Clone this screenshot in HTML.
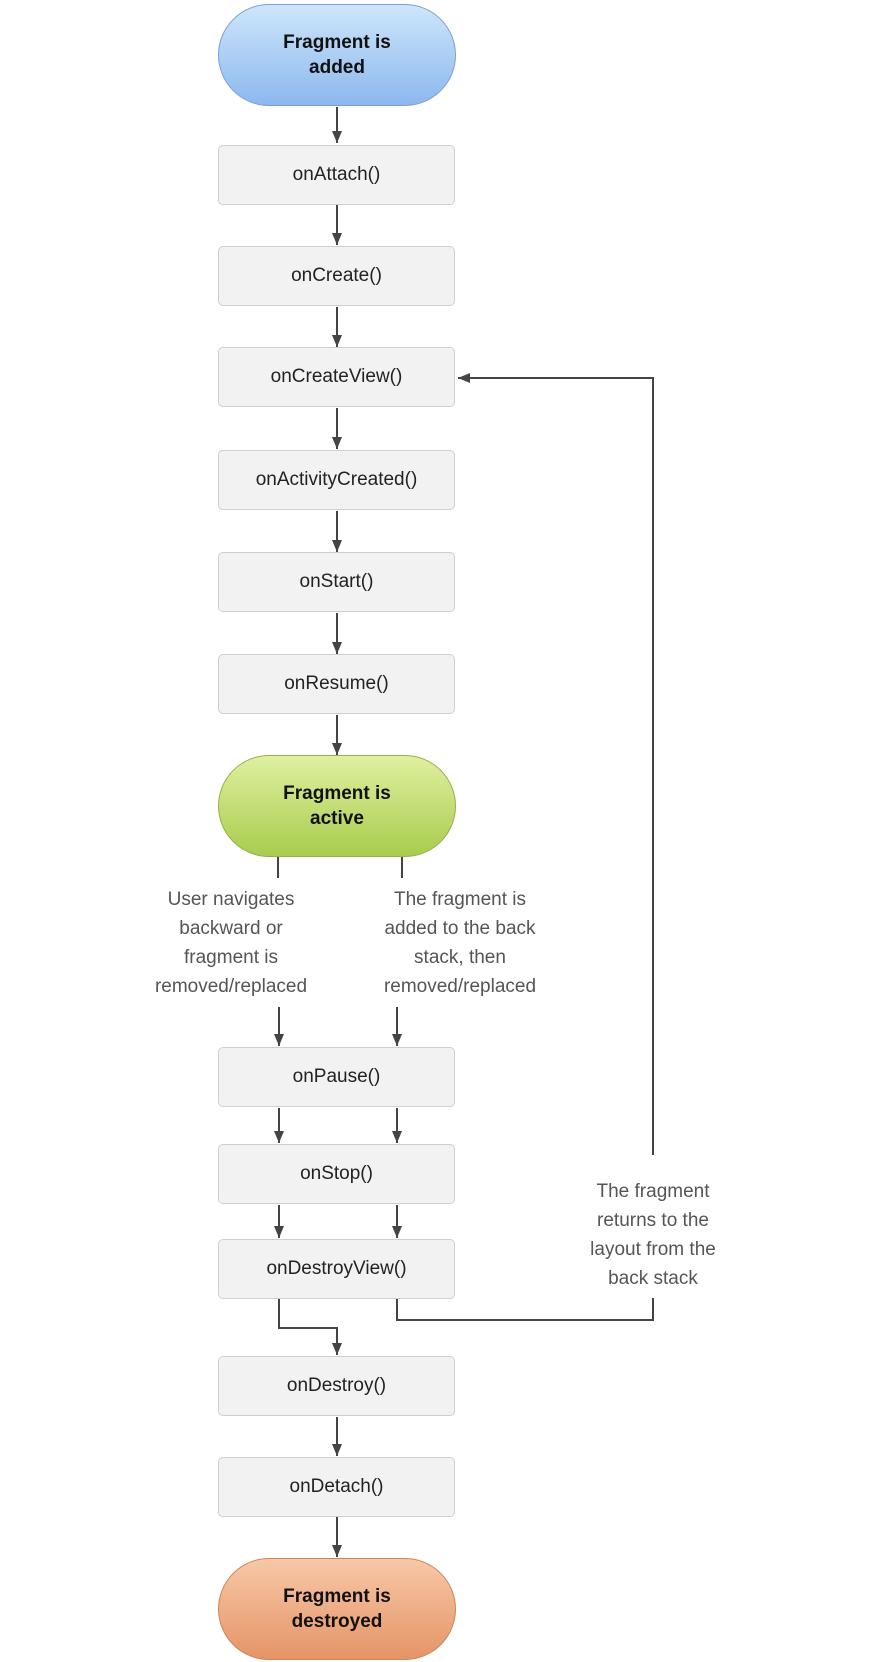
<!DOCTYPE html>
<html><head><meta charset="utf-8"><style>
html,body{margin:0;padding:0;background:#fff;}
body{width:880px;height:1662px;position:relative;overflow:hidden;font-family:"Liberation Sans",Arial,sans-serif;}
.box{position:absolute;left:218px;width:237px;height:60px;background:#f2f2f2;border:1px solid #cfcfcf;border-radius:5px;box-sizing:border-box;display:flex;align-items:center;justify-content:center;font-size:19px;color:#222;}
.pill{position:absolute;left:218px;width:238px;height:102px;border-radius:51px;box-sizing:border-box;display:flex;align-items:center;justify-content:center;text-align:center;font-weight:bold;font-size:19px;line-height:25px;color:#111;}
.lbl{position:absolute;text-align:center;font-size:19px;line-height:29px;color:#555;}
svg{position:absolute;left:0;top:0;}
</style></head><body>
<svg width="880" height="1662">
<defs><marker id="a" markerWidth="12" markerHeight="10" refX="12" refY="5" orient="auto" markerUnits="userSpaceOnUse"><path d="M0,0 L12,5 L0,10 z" fill="#444"/></marker></defs>
<g stroke="#444" stroke-width="2" fill="none">
<path d="M337 107V143" marker-end="url(#a)"/>
<path d="M337 205V245" marker-end="url(#a)"/>
<path d="M337 307V347" marker-end="url(#a)"/>
<path d="M337 408V449" marker-end="url(#a)"/>
<path d="M337 511V552" marker-end="url(#a)"/>
<path d="M337 613V654" marker-end="url(#a)"/>
<path d="M337 715V755" marker-end="url(#a)"/>
<path d="M278 856V878M402 856V878"/>
<path d="M279 1007V1046" marker-end="url(#a)"/>
<path d="M397 1007V1046" marker-end="url(#a)"/>
<path d="M279 1108V1143" marker-end="url(#a)"/>
<path d="M397 1108V1143" marker-end="url(#a)"/>
<path d="M279 1205V1238" marker-end="url(#a)"/>
<path d="M397 1205V1238" marker-end="url(#a)"/>
<path d="M279 1298V1328H337V1355" marker-end="url(#a)"/>
<path d="M397 1298V1320H653V1298"/>
<path d="M653 1155V378H458" marker-end="url(#a)"/>
<path d="M337 1417V1456" marker-end="url(#a)"/>
<path d="M337 1517V1557" marker-end="url(#a)"/>
</g></svg>
<div class="pill" style="top:4px;background:linear-gradient(#cde6fb,#8db8ee);border:1px solid #7d9fd8;">Fragment is<br>added</div>
<div class="box" style="top:145px">onAttach()</div>
<div class="box" style="top:246px">onCreate()</div>
<div class="box" style="top:347px">onCreateView()</div>
<div class="box" style="top:450px">onActivityCreated()</div>
<div class="box" style="top:552px">onStart()</div>
<div class="box" style="top:654px">onResume()</div>
<div class="pill" style="top:755px;background:linear-gradient(#dff0a0,#a9cc4e);border:1px solid #94b049;">Fragment is<br>active</div>
<div class="lbl" style="left:131px;width:200px;top:885px">User navigates<br>backward or<br>fragment is<br>removed/replaced</div>
<div class="lbl" style="left:360px;width:200px;top:885px">The fragment is<br>added to the back<br>stack, then<br>removed/replaced</div>
<div class="box" style="top:1047px">onPause()</div>
<div class="box" style="top:1144px">onStop()</div>
<div class="box" style="top:1239px">onDestroyView()</div>
<div class="lbl" style="left:553px;width:200px;top:1177px">The fragment<br>returns to the<br>layout from the<br>back stack</div>
<div class="box" style="top:1356px">onDestroy()</div>
<div class="box" style="top:1457px">onDetach()</div>
<div class="pill" style="top:1558px;background:linear-gradient(#f8c8a8,#e59466);border:1px solid #c98659;">Fragment is<br>destroyed</div>
</body></html>
